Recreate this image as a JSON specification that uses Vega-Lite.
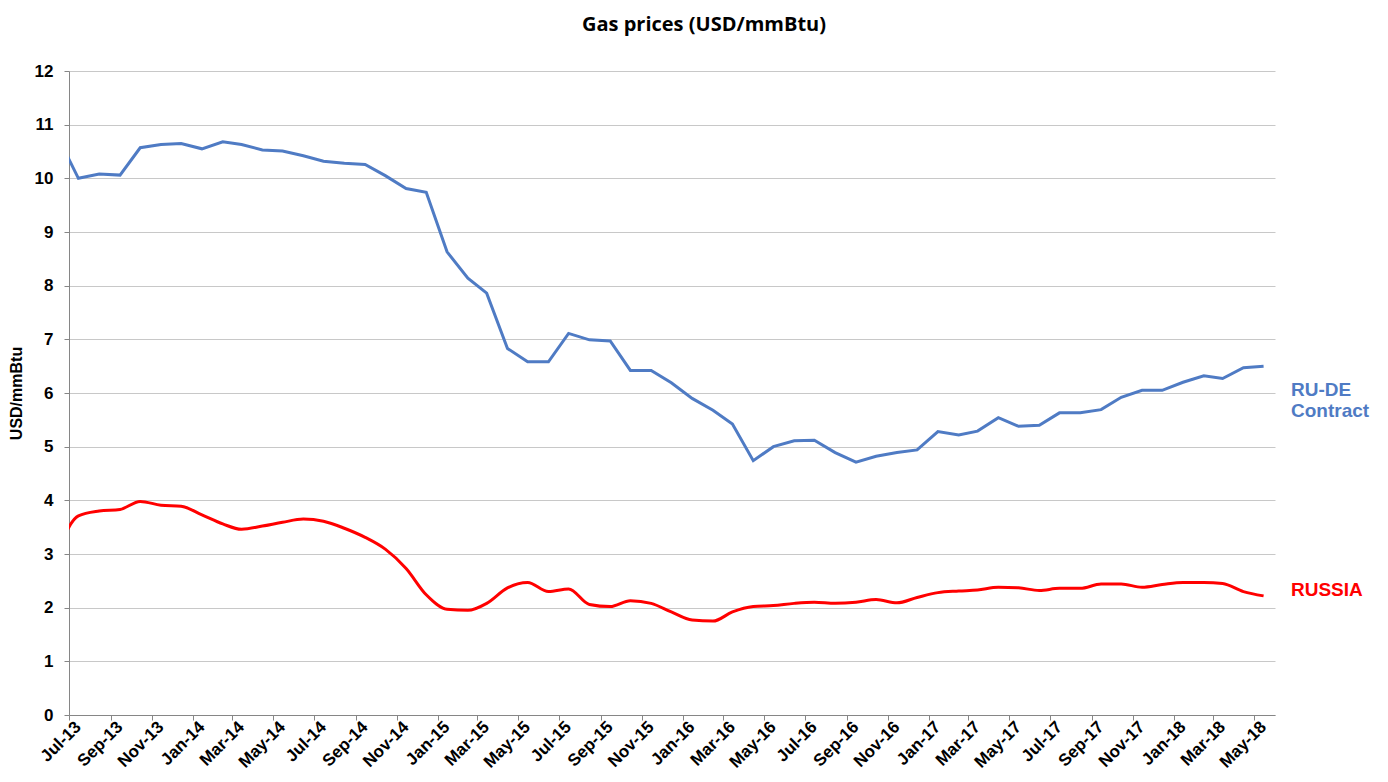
{
  "$schema": "https://vega.github.io/schema/vega-lite/v6.json",
  "autosize": {"type": "none"},
  "width": 1206,
  "height": 644,
  "padding": {"left": 69, "top": 71, "right": 113, "bottom": 67},
  "background": "white",
  "title": {
    "text": "Gas prices (USD/mmBtu)",
    "font": "Open Sans",
    "fontSize": 20,
    "fontWeight": "bold",
    "color": "#000000",
    "anchor": "middle",
    "dx": 32,
    "offset": 27
  },
  "datasets": {
    "rude": [
      {"date": "2013-06-15", "value": 10.76},
      {"date": "2013-07-15", "value": 10.00},
      {"date": "2013-08-15", "value": 10.08},
      {"date": "2013-09-15", "value": 10.06},
      {"date": "2013-10-15", "value": 10.57},
      {"date": "2013-11-15", "value": 10.63},
      {"date": "2013-12-15", "value": 10.65},
      {"date": "2014-01-15", "value": 10.55},
      {"date": "2014-02-15", "value": 10.68},
      {"date": "2014-03-15", "value": 10.63},
      {"date": "2014-04-15", "value": 10.53},
      {"date": "2014-05-15", "value": 10.51},
      {"date": "2014-06-15", "value": 10.42},
      {"date": "2014-07-15", "value": 10.32},
      {"date": "2014-08-15", "value": 10.28},
      {"date": "2014-09-15", "value": 10.26},
      {"date": "2014-10-15", "value": 10.05},
      {"date": "2014-11-15", "value": 9.81},
      {"date": "2014-12-15", "value": 9.74},
      {"date": "2015-01-15", "value": 8.63},
      {"date": "2015-02-15", "value": 8.14},
      {"date": "2015-03-15", "value": 7.86},
      {"date": "2015-04-15", "value": 6.83},
      {"date": "2015-05-15", "value": 6.58},
      {"date": "2015-06-15", "value": 6.58},
      {"date": "2015-07-15", "value": 7.11},
      {"date": "2015-08-15", "value": 6.99},
      {"date": "2015-09-15", "value": 6.97},
      {"date": "2015-10-15", "value": 6.42},
      {"date": "2015-11-15", "value": 6.42},
      {"date": "2015-12-15", "value": 6.19},
      {"date": "2016-01-15", "value": 5.90},
      {"date": "2016-02-15", "value": 5.68},
      {"date": "2016-03-15", "value": 5.42},
      {"date": "2016-04-15", "value": 4.74},
      {"date": "2016-05-15", "value": 5.00},
      {"date": "2016-06-15", "value": 5.11},
      {"date": "2016-07-15", "value": 5.12},
      {"date": "2016-08-15", "value": 4.89},
      {"date": "2016-09-15", "value": 4.71},
      {"date": "2016-10-15", "value": 4.82},
      {"date": "2016-11-15", "value": 4.89},
      {"date": "2016-12-15", "value": 4.94},
      {"date": "2017-01-15", "value": 5.28},
      {"date": "2017-02-15", "value": 5.22},
      {"date": "2017-03-15", "value": 5.29},
      {"date": "2017-04-15", "value": 5.54},
      {"date": "2017-05-15", "value": 5.38},
      {"date": "2017-06-15", "value": 5.40},
      {"date": "2017-07-15", "value": 5.63},
      {"date": "2017-08-15", "value": 5.63},
      {"date": "2017-09-15", "value": 5.69},
      {"date": "2017-10-15", "value": 5.92},
      {"date": "2017-11-15", "value": 6.05},
      {"date": "2017-12-15", "value": 6.05},
      {"date": "2018-01-15", "value": 6.20},
      {"date": "2018-02-15", "value": 6.32},
      {"date": "2018-03-15", "value": 6.27},
      {"date": "2018-04-15", "value": 6.47},
      {"date": "2018-05-15", "value": 6.50}
    ],
    "russia": [
      {"date": "2013-06-15", "value": 3.08},
      {"date": "2013-07-15", "value": 3.71},
      {"date": "2013-08-15", "value": 3.80},
      {"date": "2013-09-15", "value": 3.83},
      {"date": "2013-10-15", "value": 3.98},
      {"date": "2013-11-15", "value": 3.91},
      {"date": "2013-12-15", "value": 3.89},
      {"date": "2014-01-15", "value": 3.73},
      {"date": "2014-02-15", "value": 3.56},
      {"date": "2014-03-15", "value": 3.46},
      {"date": "2014-04-15", "value": 3.52},
      {"date": "2014-05-15", "value": 3.59},
      {"date": "2014-06-15", "value": 3.65},
      {"date": "2014-07-15", "value": 3.61},
      {"date": "2014-08-15", "value": 3.48},
      {"date": "2014-09-15", "value": 3.31},
      {"date": "2014-10-15", "value": 3.09},
      {"date": "2014-11-15", "value": 2.73},
      {"date": "2014-12-15", "value": 2.24},
      {"date": "2015-01-15", "value": 1.97},
      {"date": "2015-02-15", "value": 1.95},
      {"date": "2015-03-15", "value": 2.08},
      {"date": "2015-04-15", "value": 2.37},
      {"date": "2015-05-15", "value": 2.47},
      {"date": "2015-06-15", "value": 2.30},
      {"date": "2015-07-15", "value": 2.35},
      {"date": "2015-08-15", "value": 2.06},
      {"date": "2015-09-15", "value": 2.02},
      {"date": "2015-10-15", "value": 2.13},
      {"date": "2015-11-15", "value": 2.08},
      {"date": "2015-12-15", "value": 1.92},
      {"date": "2016-01-15", "value": 1.77},
      {"date": "2016-02-15", "value": 1.75},
      {"date": "2016-03-15", "value": 1.92},
      {"date": "2016-04-15", "value": 2.02},
      {"date": "2016-05-15", "value": 2.04},
      {"date": "2016-06-15", "value": 2.08},
      {"date": "2016-07-15", "value": 2.10},
      {"date": "2016-08-15", "value": 2.08},
      {"date": "2016-09-15", "value": 2.10},
      {"date": "2016-10-15", "value": 2.15},
      {"date": "2016-11-15", "value": 2.09},
      {"date": "2016-12-15", "value": 2.19},
      {"date": "2017-01-15", "value": 2.28},
      {"date": "2017-02-15", "value": 2.31},
      {"date": "2017-03-15", "value": 2.33},
      {"date": "2017-04-15", "value": 2.38},
      {"date": "2017-05-15", "value": 2.37},
      {"date": "2017-06-15", "value": 2.32},
      {"date": "2017-07-15", "value": 2.36},
      {"date": "2017-08-15", "value": 2.36},
      {"date": "2017-09-15", "value": 2.44},
      {"date": "2017-10-15", "value": 2.44},
      {"date": "2017-11-15", "value": 2.38},
      {"date": "2017-12-15", "value": 2.43},
      {"date": "2018-01-15", "value": 2.47},
      {"date": "2018-02-15", "value": 2.47},
      {"date": "2018-03-15", "value": 2.45},
      {"date": "2018-04-15", "value": 2.30},
      {"date": "2018-05-15", "value": 2.22}
    ],
    "labels": [
      {"label": "RU-DE", "date": "2018-06-01", "value": 6.05, "color": "#4F7BC4"},
      {"label": "Contract", "date": "2018-06-01", "value": 5.66, "color": "#4F7BC4"},
      {"label": "RUSSIA", "date": "2018-06-01", "value": 2.33, "color": "#FF0000"}
    ]
  },
  "encoding": {
    "x": {
      "field": "date",
      "type": "temporal",
      "scale": {
        "type": "utc",
        "domain": [
          {"year": 2013, "month": 7, "date": 1, "utc": true},
          {"year": 2018, "month": 6, "date": 1, "utc": true}
        ]
      },
      "axis": {
        "title": null,
        "format": "%b-%y",
        "tickCount": {"interval": "month", "step": 2},
        "grid": false,
        "domainColor": "#868686",
        "tickColor": "#868686",
        "tickSize": 5,
        "labelAngle": -45,
        "labelAlign": "right",
        "labelBaseline": "middle",
        "labelFont": "Liberation Sans",
        "labelFontSize": 17,
        "labelFontWeight": "bold",
        "labelColor": "#000000",
        "labelPadding": 4,
        "labelOffset": 9,
        "labelOverlap": false,
        "labelFlush": false
      }
    },
    "y": {
      "field": "value",
      "type": "quantitative",
      "scale": {"domain": [0, 12], "nice": false},
      "axis": {
        "title": "USD/mmBtu",
        "titleFont": "Liberation Sans",
        "titleFontSize": 16,
        "titleFontWeight": "bold",
        "titleColor": "#000000",
        "titlePadding": 10,
        "values": [0, 1, 2, 3, 4, 5, 6, 7, 8, 9, 10, 11, 12],
        "grid": true,
        "gridColor": "#C8C8C8",
        "gridWidth": 1,
        "domainColor": "#868686",
        "tickColor": "#868686",
        "tickSize": 5,
        "labelPadding": 11,
        "labelFont": "Liberation Sans",
        "labelFontSize": 17,
        "labelFontWeight": "bold",
        "labelColor": "#000000"
      }
    }
  },
  "layer": [
    {
      "data": {"name": "rude"},
      "mark": {"type": "line", "color": "#4F7BC4", "strokeWidth": 3, "clip": true}
    },
    {
      "data": {"name": "russia"},
      "mark": {"type": "line", "color": "#FF0000", "strokeWidth": 3, "clip": true, "interpolate": "monotone"}
    },
    {
      "data": {"name": "labels"},
      "mark": {"type": "text", "align": "left", "baseline": "middle", "dx": 16, "font": "Liberation Sans", "fontSize": 19, "fontWeight": "bold"},
      "encoding": {
        "text": {"field": "label"},
        "color": {"field": "color", "type": "nominal", "scale": null}
      }
    }
  ],
  "config": {
    "view": {"stroke": null}
  }
}
